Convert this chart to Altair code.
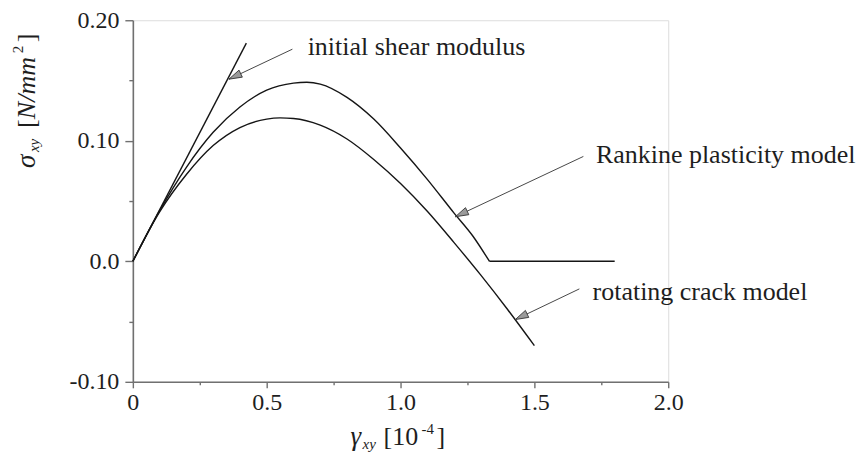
import math
import altair as alt
import pandas as pd

# ---------------- data ----------------
x_initial = [0.0, 0.424]
y_initial = [0.0, 0.181]

x_rankine = [0.0, 0.1, 0.2, 0.3, 0.4, 0.5, 0.6, 0.65, 0.7, 0.8, 0.9, 1.0, 1.1, 1.2, 1.27, 1.332, 1.8]
y_rankine = [0.0, 0.042, 0.078, 0.107, 0.128, 0.142, 0.1478, 0.1485, 0.147, 0.136, 0.118, 0.094, 0.068, 0.040, 0.021, 0.0, 0.0]

x_rotating = [0.0, 0.1, 0.2, 0.3, 0.4, 0.5, 0.55, 0.6, 0.7, 0.8, 0.9, 1.0, 1.1, 1.2, 1.3, 1.4, 1.5]
y_rotating = [0.0, 0.041, 0.072, 0.096, 0.111, 0.118, 0.119, 0.1185, 0.113, 0.1015, 0.0845, 0.0645, 0.0415, 0.0155, -0.0115, -0.040, -0.070]

label_text = ["initial shear modulus", "Rankine plasticity model", "rotating crack model"]
label_x = [0.653, 1.730, 1.7175]
label_y = [0.1712, 0.0815, -0.0317]
arrow_tail_x = [0.596, 1.683, 1.668]
arrow_tail_y = [0.176, 0.087, -0.0229]
arrow_tip_x = [0.359, 1.205, 1.429]
arrow_tip_y = [0.1511, 0.037, -0.0483]

x_ticks = [0.0, 0.5, 1.0, 1.5, 2.0]
x_tick_labels = ["0", "0.5", "1.0", "1.5", "2.0"]
y_ticks = [-0.1, 0.0, 0.1, 0.2]
y_tick_labels = ["-0.10", "0.0", "0.10", "0.20"]

# ---------------- layout / style ----------------
W, H = 536, 362
X_DOM = [0.0, 2.0]
Y_DOM = [-0.1, 0.2]
SERIF = "Liberation Serif"
AXIS_GRAY = "#707070"
LINE_COL = "#151515"
TXT = "#1e1e1e"


def minor_between(ticks):
    return [(a + b) / 2 for a, b in zip(ticks[:-1], ticks[1:])]


def label_expr(ticks, labels):
    parts = [f"abs(datum.value - ({v})) < 1e-6 ? '{l}'" for v, l in zip(ticks, labels)]
    return " : ".join(parts) + " : ''"


def minor_test(ticks):
    return " && ".join(f"abs(datum.value - ({v})) > 1e-6" for v in ticks)


x_axis = alt.Axis(
    values=sorted(x_ticks + minor_between(x_ticks)),
    labelExpr=label_expr(x_ticks, x_tick_labels),
    tickSize={"condition": {"test": minor_test(x_ticks), "value": 3}, "value": 6},
    grid=False, title=None, labelOverlap=False, labelFlush=False,
    labelFont=SERIF, labelFontSize=24, labelColor=TXT, labelPadding=3,
    domainColor=AXIS_GRAY, domainWidth=1.6, tickColor=AXIS_GRAY, tickWidth=1.4,
)
y_axis = alt.Axis(
    values=sorted(y_ticks + minor_between(y_ticks)),
    labelExpr=label_expr(y_ticks, y_tick_labels),
    tickSize={"condition": {"test": minor_test(y_ticks), "value": 4}, "value": 8},
    grid=False, title=None, labelOverlap=False, labelFlush=False,
    labelFont=SERIF, labelFontSize=24, labelColor=TXT, labelPadding=6,
    domainColor=AXIS_GRAY, domainWidth=1.6, tickColor=AXIS_GRAY, tickWidth=1.4,
)
xs = alt.Scale(domain=X_DOM, nice=False, zero=False)
ys = alt.Scale(domain=Y_DOM, nice=False, zero=False)

# ---------------- tables ----------------
# the Rankine curve has a kink where it reaches zero: draw the curved part and
# the flat residual part as two pieces so the corner stays sharp
k = x_rankine.index(1.332)
curves = pd.concat([
    pd.DataFrame({"x": x_initial, "y": y_initial, "s": "initial"}),
    pd.DataFrame({"x": x_rankine[:k + 1], "y": y_rankine[:k + 1], "s": "rankine"}),
    pd.DataFrame({"x": x_rankine[k:], "y": y_rankine[k:], "s": "rankine_flat"}),
    pd.DataFrame({"x": x_rotating, "y": y_rotating, "s": "rotating"}),
], ignore_index=True)

sx = W / (X_DOM[1] - X_DOM[0])
sy = H / (Y_DOM[1] - Y_DOM[0])
angles = []
for tx, ty, hx, hy in zip(arrow_tail_x, arrow_tail_y, arrow_tip_x, arrow_tip_y):
    dx = (hx - tx) * sx
    dy = -(hy - ty) * sy
    angles.append(math.degrees(math.atan2(dx, -dy)) % 360)

arrows = pd.DataFrame({
    "tx": arrow_tail_x, "ty": arrow_tail_y,
    "hx": arrow_tip_x, "hy": arrow_tip_y, "ang": angles,
})
labels = pd.DataFrame({"x": label_x, "y": label_y, "t": label_text})

# ---------------- layers ----------------
lines = alt.Chart(curves).mark_line(color=LINE_COL, strokeWidth=1.4, interpolate="monotone").encode(
    x=alt.X("x:Q", scale=xs, axis=x_axis),
    y=alt.Y("y:Q", scale=ys, axis=y_axis),
    detail="s:N",
)

arrow_lines = alt.Chart(arrows).mark_rule(color="#333", strokeWidth=0.9).encode(
    x=alt.X("tx:Q", scale=xs, axis=x_axis),
    y=alt.Y("ty:Q", scale=ys, axis=y_axis),
    x2="hx:Q", y2="hy:Q",
)

arrow_heads = alt.Chart(arrows).mark_point(
    shape="M0,0L-0.6,2L0.6,2Z", filled=True, fill="#9a9a9a", stroke="#333",
    strokeWidth=0.8, size=169, opacity=1,
).encode(
    x=alt.X("hx:Q", scale=xs, axis=x_axis),
    y=alt.Y("hy:Q", scale=ys, axis=y_axis),
    angle=alt.Angle("ang:Q", scale=None),
)

ann = alt.Chart(labels).mark_text(
    font=SERIF, fontSize=26, align="left", baseline="alphabetic", color=TXT,
).encode(
    x=alt.X("x:Q", scale=xs, axis=x_axis),
    y=alt.Y("y:Q", scale=ys, axis=y_axis),
    text="t:N",
)


def piece(txt, px, py, size, italic=False, angle=0):
    kw = dict(font=SERIF, fontSize=size, align="left", baseline="alphabetic", color=TXT)
    if italic:
        kw["fontStyle"] = "italic"
    if angle:
        kw["angle"] = angle
    return alt.Chart(pd.DataFrame({"t": [txt]})).mark_text(**kw).encode(
        text="t:N", x=alt.value(px), y=alt.value(py)
    )

# title pieces, positions relative to plot area origin
ytitle = [
    piece("σ", -98, 148, 27, True, 270),
    piece("xy", -94, 132, 15, True, 270),
    piece("[", -98, 108, 26, False, 270),
    piece("N/mm", -98, 99, 26, True, 270),
    piece("2", -110, 33, 15, False, 270),
    piece("]", -98, 22, 26, False, 270),
]
xtitle = [
    piece("γ", 218, 425, 27, True),
    piece("xy", 230, 429, 15, True),
    piece("[10", 251, 425, 26),
    piece("-4", 289, 414, 15),
    piece("]", 304, 425, 26),
]

chart = alt.layer(lines, arrow_lines, arrow_heads, ann, *ytitle, *xtitle).properties(
    width=W, height=H,
    autosize=alt.AutoSizeParams(type="none"),
    padding={"left": 125, "top": 12, "right": 190, "bottom": 72},
).configure_view(stroke=None).configure(background="white")

chart.save("out.html", embed_options={"renderer": "svg", "actions": False})
